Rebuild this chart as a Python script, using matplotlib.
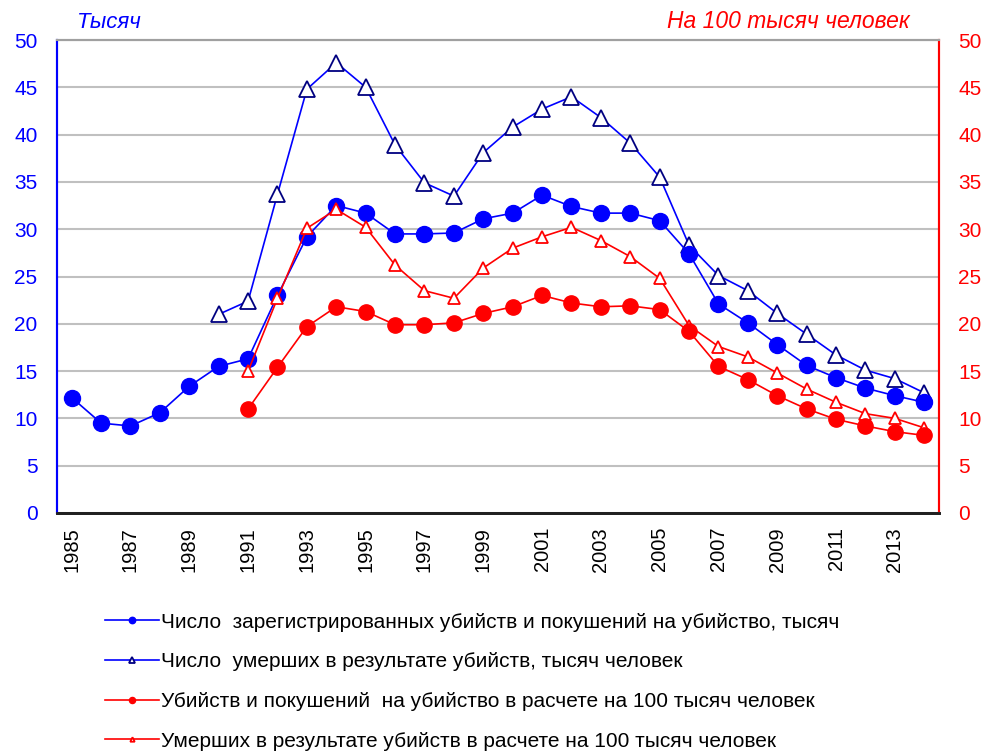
import matplotlib
matplotlib.use("Agg")
import matplotlib.pyplot as plt

years = list(range(1985, 2015))

reg_thousand = [12.2, 9.5, 9.2, 10.6, 13.4, 15.5, 16.3, 23.0, 29.2, 32.5, 31.7, 29.5, 29.5, 29.6, 31.1,
                31.7, 33.6, 32.4, 31.7, 31.7, 30.9, 27.4, 22.1, 20.1, 17.8, 15.6, 14.3, 13.2, 12.4, 11.7]
deaths_years = list(range(1990, 2015))
deaths_thousand = [21.0, 22.4, 33.7, 44.8, 47.6, 45.0, 38.9, 34.9, 33.5, 38.1, 40.8, 42.7, 44.0, 41.8,
                   39.1, 35.5, 28.3, 25.1, 23.5, 21.1, 18.9, 16.7, 15.1, 14.2, 12.7]
rate_years = list(range(1991, 2015))
reg_rate = [11.0, 15.4, 19.7, 21.8, 21.3, 19.9, 19.9, 20.1, 21.1, 21.8, 23.0, 22.2, 21.8, 21.9, 21.5,
            19.2, 15.5, 14.1, 12.4, 11.0, 9.9, 9.2, 8.6, 8.2]
death_rate = [15.0, 22.7, 30.1, 32.1, 30.2, 26.2, 23.5, 22.7, 25.9, 28.0, 29.2, 30.2, 28.8, 27.1, 24.8,
              19.8, 17.6, 16.5, 14.8, 13.1, 11.7, 10.5, 10.0, 9.0]

labels = [
    "Число  зарегистрированных убийств и покушений на убийство, тысяч",
    "Число  умерших в результате убийств, тысяч человек",
    "Убийств и покушений  на убийство в расчете на 100 тысяч человек",
    "Умерших в результате убийств в расчете на 100 тысяч человек",
]
left_label = "Тысяч"
right_label = "На 100 тысяч человек"
yticks = list(range(0, 51, 5))
xticks = list(range(1985, 2015, 2))

plt.rcParams['font.family'] = ['Liberation Sans', 'DejaVu Sans']

BLUE = "#0000FF"
NAVY = "#000080"
RED = "#FF0000"

fig = plt.figure(figsize=(9.92, 7.51), dpi=100)
ax = fig.add_axes([57/992, 1-513/751, (939-57)/992, (513-40)/751])
ax2 = ax.twinx()

ax.set_xlim(1984.5, 2014.5)
ax.set_ylim(0, 50)
ax2.set_ylim(0, 50)
ax.set_yticks(yticks)
ax2.set_yticks(yticks)
ax.set_xticks(xticks)
ax.set_xticklabels([str(x) for x in xticks], rotation=90, fontsize=14.5)
ax.tick_params(axis='x', length=0, pad=10)
ax.tick_params(axis='y', length=0, labelcolor=BLUE, labelsize=15, pad=14)
ax2.tick_params(axis='y', length=0, labelcolor=RED, labelsize=15, pad=14)
ax.grid(axis='y', color='#c0c0c0', linewidth=1.5)
ax.set_axisbelow(True)

for a in (ax, ax2):
    a.spines['top'].set_color('#a0a0a0')
    a.spines['top'].set_linewidth(1.5)
    a.spines['bottom'].set_color('#202020')
    a.spines['bottom'].set_linewidth(2)
    a.spines['left'].set_color(BLUE)
    a.spines['left'].set_linewidth(1.5)
    a.spines['right'].set_color(RED)
    a.spines['right'].set_linewidth(1.5)

l1, = ax.plot(years, reg_thousand, color=BLUE, lw=1.2, marker='o', ms=11.5,
              mfc=BLUE, mec=BLUE, zorder=4)
l2, = ax.plot(deaths_years, deaths_thousand, color=BLUE, lw=1.2, marker='^', ms=12,
              mfc='white', mec=NAVY, mew=1.3, zorder=3)
l3, = ax2.plot(rate_years, reg_rate, color=RED, lw=1.2, marker='o', ms=11,
               mfc=RED, mec=RED, zorder=4)
l4, = ax2.plot(rate_years, death_rate, color=RED, lw=1.2, marker='^', ms=8,
               mfc='white', mec=RED, mew=1.3, zorder=3)

fig.text(77/992, 1-22/751, left_label, color=BLUE, fontsize=16, style='italic',
         va='center', ha='left')
fig.text(910/992, 1-22/751, right_label, color=RED, fontsize=16.5, style='italic',
         va='center', ha='right')

leg = fig.legend([l1, l2, l3, l4], labels, loc='upper left',
                 bbox_to_anchor=(86/992, 1-594/751), frameon=False, fontsize=15,
                 handlelength=2.6, handletextpad=0.1, labelspacing=0.99, markerscale=0.4)

fig.savefig("out.png", dpi=100)
